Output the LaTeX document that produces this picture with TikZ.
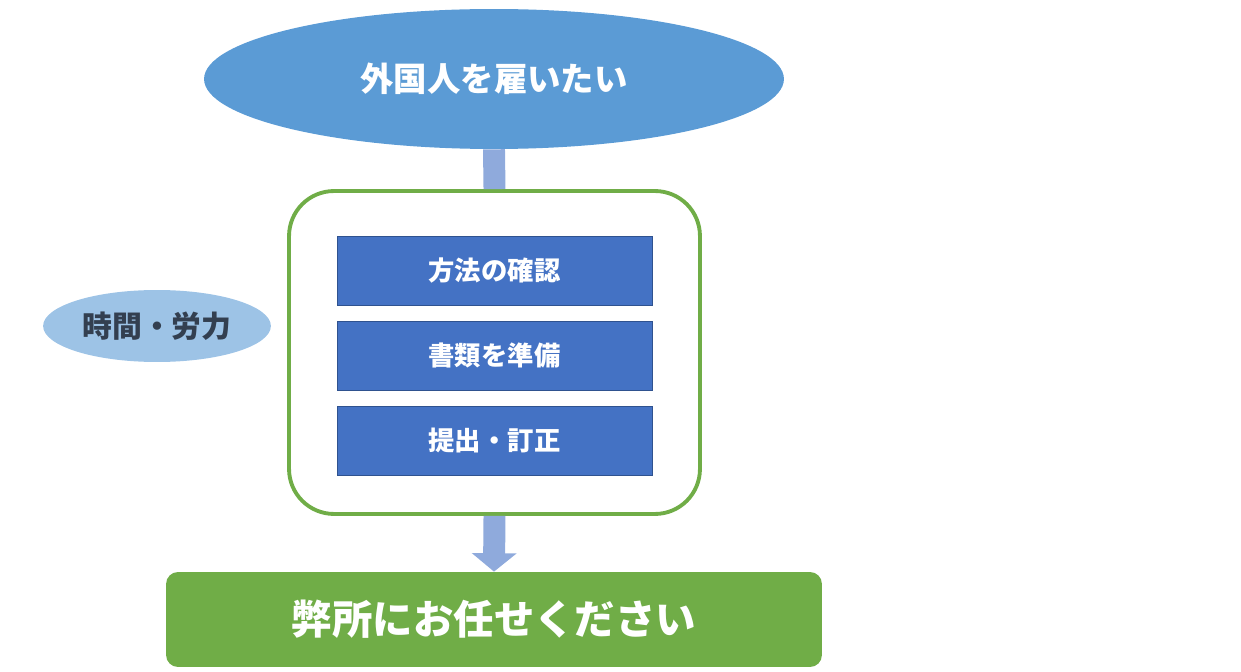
\documentclass[tikz,border=0pt]{standalone}
\usepackage{fontspec}
\setmainfont{Noto Sans CJK JP}
\usetikzlibrary{arrows.meta, positioning, shapes.geometric}
\definecolor{topblue}{HTML}{5B9BD5}
\definecolor{stepblue}{HTML}{4472C4}
\definecolor{stepedge}{HTML}{2F528F}
\definecolor{flowblue}{HTML}{8FAADC}
\definecolor{okgreen}{HTML}{70AD47}
\definecolor{paleblue}{HTML}{9DC3E6}
\definecolor{darktext}{HTML}{333F50}
\tikzset{%
	step box/.style={
		rectangle,
		draw=stepedge,
		fill=stepblue,
		minimum width=6.3cm,
		minimum height=1.38cm,
		text=white,
		font=\bfseries\fontsize{15}{18}\selectfont
	},
	flow/.style={
		draw=flowblue,
		line width=12.5pt
	},
}
\begin{document}
\begin{tikzpicture}[x=0.02cm,y=-0.02cm]
	\useasboundingbox (0,0) rectangle (1241,672);
	% Frame and goal
	\node[draw=okgreen, line width=2.2pt, rounded corners=0.9cm, minimum width=8.22cm, minimum height=6.46cm] (frame) at (494.5,352.5) {};
	\node[ellipse, fill=topblue, minimum width=11.6cm, minimum height=2.8cm, text=white, font=\bfseries\fontsize{19}{22}\selectfont] (wish) at (494,79) {外国人を雇いたい};
	\node[fill=okgreen, rounded corners=0.24cm, minimum width=13.12cm, minimum height=1.9cm, text=white, font=\bfseries\fontsize{23}{27}\selectfont] (office) at (494,619.5) {弊所にお任せください};
	\node[ellipse, fill=paleblue, minimum width=4.28cm, minimum height=1.44cm, text=darktext, font=\bfseries\fontsize{17}{20}\selectfont] (cost) at (157,326) {時間・労力};
	
	% Steps
	\node[step box] (check) at (494.5,270.5) {方法の確認};
	\node[step box] (docs) at (494.5,355.5) {書類を準備};
	\node[step box] (submit) at (494.5,440.5) {提出・訂正};
	
	% Flow arrows
	\draw[flow] (wish.south) -- (frame.north);
	\draw[flow, -{Triangle[length=10.5pt,width=25pt]}] (frame.south) -- (office.north);
\end{tikzpicture}
\end{document}
